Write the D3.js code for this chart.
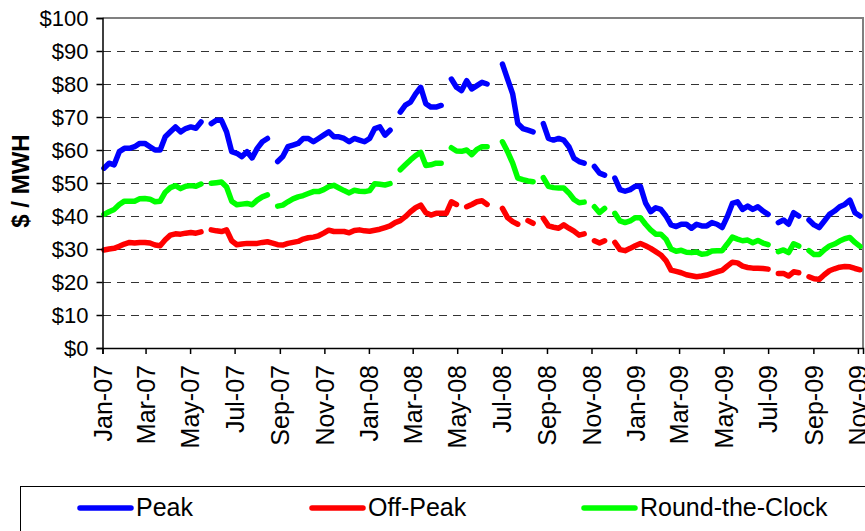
<!DOCTYPE html>
<html lang="en">
  <head>
    <meta charset="utf-8">
    <title>Power prices</title>
    <script src="https://d3js.org/d3.v7.min.js"></script>
    <style type="text/css">
        body {
          margin: 0;
          background: #fff;
        }

        .chart text {
          font-family: Arial, "Liberation Sans", sans-serif;
          fill: #000;
        }

        .grid line {
          stroke: #333;
          stroke-width: 1;
          stroke-dasharray: 8,6;
          shape-rendering: crispEdges;
        }

        .series path {
          fill: none;
          stroke-width: 5.5;
          stroke-linejoin: round;
          stroke-linecap: round;
        }
    </style>
  </head>

  <body>
    <div class="chart" id="chart"></div>

    <script>

        // weekly prices, $/MWh, first week starts 3 Jan 2007 (null = no data)
        var peak = [
          54.5, 56, 55.5, 59.5, 60.5, 60.5, 61, 62, 62, 61,
          60, 60, 64, 65.5, 67, 65.5, 66.5, 67, 66.6, 68.5,
          null, 68, 69, 69, 65.5, 59.5, 59, 58, 59.5, 57.6,
          60.5, 62.5, 63.5, null, 56.5, 58, 61, 61.5, 62, 63.5,
          63.5, 62.5, 63.5, 64.5, 65.5, 64, 64, 63.5, 62.5, 63.5,
          63, 62.5, 63.5, 66.5, 67, 64.5, 66, null, 71.5, 73.6,
          74.5, 77, 79, 74, 73, 73, 73.5, null, 81.5, 79,
          78, 81, 78.5, 79.5, 80.5, 80, null, null, 86, 81.5,
          77, 68, 66.5, 66, 65.5, null, 68, 63.5, 63, 63.5,
          63, 61, 57.5, 56.5, 56, null, 55, 53, 52.4, null,
          51.5, 48, 47.5, 48, 49, 49, 44, 41.3, 42.5, 42,
          40, 37.3, 36.8, 37.5, 37.5, 36.3, 37.5, 37, 37, 38,
          37.5, 36.5, 39.8, 43.8, 44.3, 42, 43, 42, 42.8, 41.5,
          40.5, null, 38, 38.8, 37.5, 41, 40, null, 38.8, 37.3,
          36.5, 38.5, 40.5, 41.5, 42.8, 43.5, 44.8, 41, 40
        ];

        var offPeak = [
          29.7, 30, 30.2, 30.8, 31.5, 32, 31.8, 32, 32, 31.8,
          31.2, 31, 32.8, 34.2, 34.6, 34.5, 34.8, 35, 34.8, 35.2,
          null, 35.8, 35.5, 35.3, 35.8, 32.5, 31.3, 31.5, 31.7, 31.7,
          31.7, 32, 32.2, 31.8, 31.3, 31.2, 31.7, 32, 32.3, 33,
          33.4, 33.6, 34, 34.8, 35.7, 35.3, 35.3, 35.3, 34.9, 35.6,
          35.8, 35.5, 35.4, 35.7, 36, 36.5, 37, 38, 38.6, 39.8,
          41.3, 42.5, 43.3, 41, 40.3, 40.8, 40.8, 40.8, 44.3, 43.5,
          null, 42.8, 43.5, 44.3, 44.6, 43.5, null, null, 42.3, 39.5,
          38.3, 37.5, null, 38.6, 37.8, null, 39.3, 37, 36.6, 36.3,
          37.3, 36.3, 35.4, 34.2, 34.6, null, 32.5, 31.8, 32.5, null,
          32, 29.8, 29.5, 30.2, 31, 31.7, 31, 30.2, 29.2, 28.2,
          26.5, 23.6, 23.2, 22.8, 22.2, 21.9, 21.6, 21.8, 22.1, 22.6,
          23.1, 23.5, 24.8, 26, 25.8, 24.8, 24.4, 24.2, 24.2, 24.1,
          23.9, null, 22.6, 22.6, 21.8, 23.1, 22.8, null, 21.6, 21,
          20.8, 22.2, 23.4, 24, 24.5, 24.7, 24.6, 24.1, 23.7
        ];

        var roundTheClock = [
          40.5, 41.3, 42, 43.5, 44.5, 44.5, 44.5, 45.2, 45.3, 45.1,
          44.3, 44.5, 47.2, 48.6, 49.2, 48.3, 49, 49.2, 49, 49.7,
          null, 49.9, 50.1, 50.3, 48.8, 44.5, 43.4, 43.6, 43.8, 43.4,
          44.8, 45.8, 46.4, null, 43, 43.3, 44.3, 45.2, 45.8, 46.2,
          46.8, 47.4, 47.4, 48, 48.9, 49.3, 48.5, 47.7, 47, 47.8,
          47.5, 47.4, 47.7, 49.8, 49.6, 49.4, 49.8, null, 54, 55.5,
          57, 58.3, 59.3, 55.3, 55.5, 56, 56, null, 60.7, 59.7,
          59.6, 60, 58.6, 60.2, 61, 61, null, null, 62.5, 59.5,
          56, 51.5, 51, 50.6, 50.4, null, 51.6, 49, 48.6, 48.5,
          48.5, 47, 45, 44, 44.2, null, 42.8, 41, 42.3, null,
          40.8, 38.5, 38, 38.5, 39.5, 39.5, 37.5, 35.8, 34.5, 34.5,
          33, 30, 29.3, 29.6, 29, 28.9, 29.1, 28.4, 28.6, 29.4,
          29.5, 29.5, 31.5, 33.6, 33, 32.5, 32.7, 31.9, 32.6, 31.8,
          31.3, null, 29.2, 29.7, 28.9, 31.6, 30.9, null, 29.5, 28.3,
          28.3, 29.8, 30.9, 31.5, 32.4, 33.1, 33.5, 32, 30.8
        ];

        var seriesNames = ["Peak", "Off-Peak", "Round-the-Clock"];
        var seriesColors = ["#0000ff", "#ff0000", "#00ff00"];
        var yTicks = [0, 10, 20, 30, 40, 50, 60, 70, 80, 90, 100];

        var startDate = new Date(2007, 0, 3);
        var weeks = peak.map(function(d, i) { return d3.timeDay.offset(startDate, 7 * i); });

        var width = 865, height = 531;
        var plotLeft = 102.5, plotRight = 863, plotTop = 18, plotBottom = 348;

        var svg = d3.select("#chart").append("svg")
            .attr("width", width)
            .attr("height", height);

        svg.append("rect")
            .attr("width", width)
            .attr("height", height)
            .attr("fill", "#fff");

        var x = d3.scaleTime()
            .domain([new Date(2007, 0, 1), new Date(2009, 10, 8)])
            .range([plotLeft, plotRight]);

        var y = d3.scaleLinear()
            .domain([0, 100])
            .range([plotBottom, plotTop]);

        // dashed gridlines
        svg.append("g")
            .attr("class", "grid")
          .selectAll("line")
          .data(yTicks.filter(function(d) { return d > 0 && d < 100; }))
          .enter().append("line")
            .attr("x1", plotLeft)
            .attr("x2", plotRight)
            .attr("y1", function(d) { return y(d); })
            .attr("y2", function(d) { return y(d); });

        // grey frame top and right
        svg.append("path")
            .attr("d", "M" + plotLeft + "," + plotTop + "H" + plotRight + "V" + plotBottom)
            .attr("fill", "none")
            .attr("stroke", "#808080")
            .attr("stroke-width", 2);

        // series
        var line = d3.line()
            .defined(function(d) { return d != null; })
            .x(function(d, i) { return x(weeks[i]); })
            .y(function(d) { return y(d); });

        svg.append("g")
            .attr("class", "series")
          .selectAll("path")
          .data([peak, offPeak, roundTheClock])
          .enter().append("path")
            .attr("stroke", function(d, i) { return seriesColors[i]; })
            .attr("d", line);

        // axes
        var yAxis = svg.append("g")
            .attr("transform", "translate(" + plotLeft + ",0)")
            .call(d3.axisLeft(y)
              .tickValues(yTicks)
              .tickFormat(function(d) { return "$" + d; })
              .tickSize(6)
              .tickPadding(8));

        yAxis.selectAll("text")
            .style("font-size", "22px");

        var xAxis = svg.append("g")
            .attr("transform", "translate(0," + plotBottom + ")")
            .call(d3.axisBottom(x)
              .ticks(d3.timeMonth.every(2))
              .tickFormat(d3.timeFormat("%b-%y"))
              .tickSize(6));

        xAxis.selectAll("text")
            .style("font-size", "25px")
            .attr("text-anchor", "end")
            .attr("x", 0)
            .attr("y", 0)
            .attr("dy", "0.35em")
            .attr("transform", "translate(0,17) rotate(-90)");

        svg.selectAll(".domain, .tick line")
            .attr("stroke", "#000")
            .attr("stroke-width", 1.5);

        // axis title
        svg.append("text")
            .attr("transform", "translate(29,181) rotate(-90)")
            .attr("text-anchor", "middle")
            .style("font-size", "24px")
            .style("font-weight", "bold")
            .text("$ / MWH");

        // legend
        var legend = svg.append("g");

        legend.append("rect")
            .attr("x", 20.5)
            .attr("y", 486.5)
            .attr("width", 900)
            .attr("height", 100)
            .attr("fill", "none")
            .attr("stroke", "#000")
            .attr("stroke-width", 1);

        var legendX = [80, 312, 584];

        var item = legend.selectAll(".item")
            .data(seriesNames)
            .enter().append("g")
              .attr("class", "item")
              .attr("transform", function(d, i) { return "translate(" + legendX[i] + ",508)"; });

        item.append("line")
            .attr("x1", 0)
            .attr("x2", 51)
            .attr("stroke", function(d, i) { return seriesColors[i]; })
            .attr("stroke-width", 5.5)
            .attr("stroke-linecap", "round");

        item.append("text")
            .attr("x", 56)
            .attr("y", 8)
            .style("font-size", "25px")
            .text(function(d) { return d; });

    </script>
  </body>
</html>
